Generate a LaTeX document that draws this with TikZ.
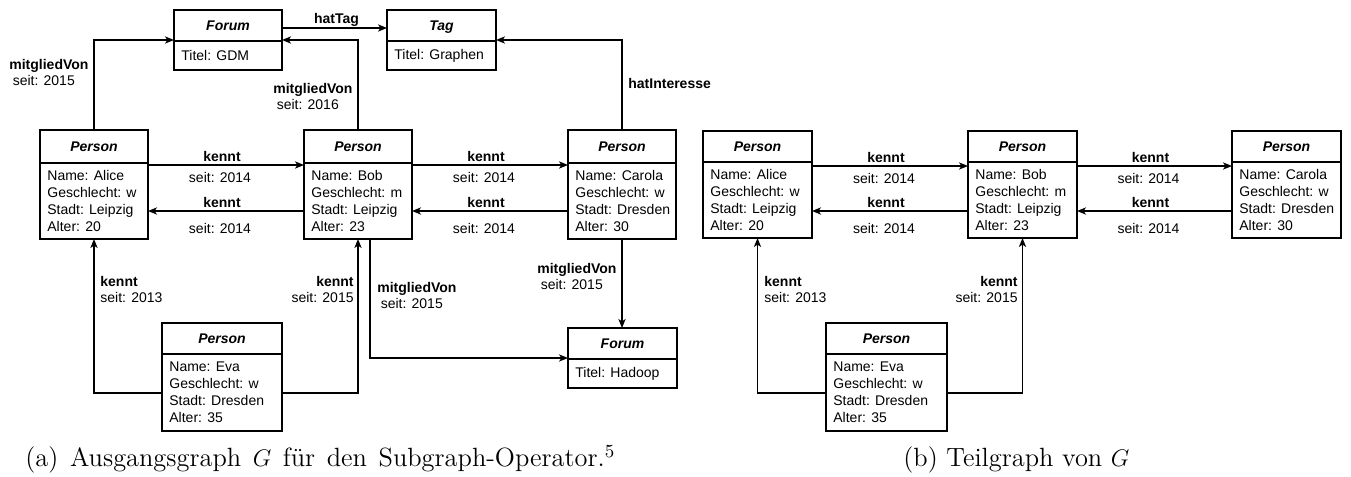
\documentclass[tikz,border=0pt]{standalone}
\usepackage{fontspec}
\newfontfamily\arialfam{Liberation Sans}
\usetikzlibrary{arrows.meta,fit}
\newcommand\umlbox[8]{%
  \node[box, fit={(#2,#3) (#4,#5)}] (#1) {};
  \draw[boxline] (#2,#6) -- (#4,#6);
  \node[ttl] (#1-t) at ({(#2+#4)/2},{(#3+#6)/2}) {#7};
  \node[body] (#1-b) at ({#2+7},{(#6+#5)/2}) {#8};
}
\begin{document}
\begin{tikzpicture}[x=0.5pt,y=-0.5pt,
  box/.style={draw, line width=0.7pt, inner sep=0pt, outer sep=0pt},
  boxline/.style={line width=0.7pt},
  ttl/.style={font={\arialfam\bfseries\itshape\fontsize{7}{8.5}\selectfont}, inner sep=0pt, text height=5.05pt, text depth=0pt},
  body/.style={font={\arialfam\fontsize{7}{8.5}\selectfont}, align=left, inner sep=0pt, anchor=west},
  lbl/.style={font={\arialfam\fontsize{7}{8}\selectfont}, align=left, inner sep=0pt},
  conn/.style={line width=0.7pt, -{Stealth[length=4.5pt,width=3.6pt,inset=1.2pt]}},
  captxt/.style={font=\fontsize{13.2}{16}\selectfont, inner sep=0pt, anchor=base west}]
\useasboundingbox (0,0) rectangle (1351,477);

% ---------- (a) ----------
\umlbox{forumA}{174}{10}{282}{70}{41}{Forum}{Titel: GDM}
\umlbox{tag}{387}{10}{496}{70}{41}{Tag}{Titel: Graphen}
\umlbox{alice}{40}{130}{148}{239}{163}{Person}{Name: Alice\\Geschlecht: w\\Stadt: Leipzig\\Alter: 20}
\umlbox{bob}{304}{130}{412}{239}{163}{Person}{Name: Bob\\Geschlecht: m\\Stadt: Leipzig\\Alter: 23}
\umlbox{carola}{568}{130}{676}{239}{163}{Person}{Name: Carola\\Geschlecht: w\\Stadt: Dresden\\Alter: 30}
\umlbox{eva}{162}{323}{282}{431}{354}{Person}{Name: Eva\\Geschlecht: w\\Stadt: Dresden\\Alter: 35}
\umlbox{hadoop}{568}{328}{677}{388}{359}{Forum}{Titel: Hadoop}

\draw[conn] ([yshift=6pt]forumA.east) -- ([yshift=6pt]tag.west)
  node[lbl, midway, yshift=4pt, xshift=1pt, font={\arialfam\bfseries\fontsize{7}{8}\selectfont}] (lhattag) {hatTag};
\draw[conn] (alice.north) |- (forumA.west);
\node[lbl, anchor=north west] (lmA) at (9,59) {\textbf{mitgliedVon}\\\hspace{1.7pt}seit: 2015};
\draw[conn] (bob.north) |- (forumA.east);
\node[lbl, anchor=north west] (lmB) at (273,83) {\textbf{mitgliedVon}\\\hspace{1.7pt}seit: 2016};
\draw[conn] (carola.north) |- (tag.east);
\node[lbl, anchor=west] (lhi) at (628,83) {\textbf{hatInteresse}};

\draw[conn] ([yshift=9.75pt]alice.east) -- ([yshift=9.75pt]bob.west)
  node[lbl, midway, yshift=4.5pt, xshift=-2pt] (k1) {\textbf{kennt}}
  node[lbl, midway, yshift=-6pt, xshift=-3pt] (s1) {seit: 2014};
\draw[conn] ([yshift=-13.25pt]bob.west) -- ([yshift=-13.25pt]alice.east)
  node[lbl, midway, yshift=4.5pt, xshift=-2pt] (k2) {\textbf{kennt}}
  node[lbl, midway, yshift=-8.5pt, xshift=-3pt] (s2) {seit: 2014};
\draw[conn] ([yshift=9.75pt]bob.east) -- ([yshift=9.75pt]carola.west)
  node[lbl, midway, yshift=4.5pt, xshift=-2pt] (k3) {\textbf{kennt}}
  node[lbl, midway, yshift=-6pt, xshift=-3pt] (s3) {seit: 2014};
\draw[conn] ([yshift=-13.25pt]carola.west) -- ([yshift=-13.25pt]bob.east)
  node[lbl, midway, yshift=4.5pt, xshift=-2pt] (k4) {\textbf{kennt}}
  node[lbl, midway, yshift=-8.5pt, xshift=-3pt] (s4) {seit: 2014};

\draw[conn] ([yshift=-8pt]eva.west) -| (alice.south);
\node[lbl, anchor=north west] (le1) at (100,276) {\textbf{kennt}\\seit: 2013};
\draw[conn] ([yshift=-8pt]eva.east) -| (bob.south);
\node[lbl, anchor=north east, align=right] (le2) at (354,276) {\textbf{kennt}\\seit: 2015};

\draw[conn] ([xshift=6pt]bob.south) |- (hadoop.west);
\node[lbl, anchor=north west] (lmH1) at (377,282) {\textbf{mitgliedVon}\\\hspace{1.7pt}seit: 2015};
\draw[conn] (carola.south) -- (carola.south |- hadoop.north);
\node[lbl, anchor=north west] (lmH2) at (537,263) {\textbf{mitgliedVon}\\\hspace{1.7pt}seit: 2015};

\node[captxt] (capA) at (25,466) {\makebox[295pt][s]{(a) Ausgangsgraph $G$ für den Subgraph-Operator.\textsuperscript{5}}};

% ---------- (b) ----------
\umlbox{aliceB}{703}{131}{812}{238}{162}{Person}{Name: Alice\\Geschlecht: w\\Stadt: Leipzig\\Alter: 20}
\umlbox{bobB}{968}{131}{1077}{238}{162}{Person}{Name: Bob\\Geschlecht: m\\Stadt: Leipzig\\Alter: 23}
\umlbox{carolaB}{1232}{131}{1341}{238}{162}{Person}{Name: Carola\\Geschlecht: w\\Stadt: Dresden\\Alter: 30}
\umlbox{evaB}{826}{323}{947}{431}{354}{Person}{Name: Eva\\Geschlecht: w\\Stadt: Dresden\\Alter: 35}

\draw[conn] ([yshift=9.25pt]aliceB.east) -- ([yshift=9.25pt]bobB.west)
  node[lbl, midway, yshift=4.5pt, xshift=-2pt] (k5) {\textbf{kennt}}
  node[lbl, midway, yshift=-6pt, xshift=-3pt] (s5) {seit: 2014};
\draw[conn] ([yshift=-13.25pt]bobB.west) -- ([yshift=-13.25pt]aliceB.east)
  node[lbl, midway, yshift=4.5pt, xshift=-2pt] (k6) {\textbf{kennt}}
  node[lbl, midway, yshift=-8.5pt, xshift=-3pt] (s6) {seit: 2014};
\draw[conn] ([yshift=9.25pt]bobB.east) -- ([yshift=9.25pt]carolaB.west)
  node[lbl, midway, yshift=4.5pt, xshift=-2pt] (k7) {\textbf{kennt}}
  node[lbl, midway, yshift=-6pt, xshift=-3pt] (s7) {seit: 2014};
\draw[conn] ([yshift=-13.25pt]carolaB.west) -- ([yshift=-13.25pt]bobB.east)
  node[lbl, midway, yshift=4.5pt, xshift=-2pt] (k8) {\textbf{kennt}}
  node[lbl, midway, yshift=-8.5pt, xshift=-3pt] (s8) {seit: 2014};

\draw[conn] ([yshift=-8pt]evaB.west) -| (aliceB.south);
\node[lbl, anchor=north west] (le3) at (764,276) {\textbf{kennt}\\seit: 2013};
\draw[conn] ([yshift=-8pt]evaB.east) -| (bobB.south);
\node[lbl, anchor=north east, align=right] (le4) at (1018,276) {\textbf{kennt}\\seit: 2015};

\node[captxt] (capB) at (903,466) {(b) Teilgraph von $G$};
\end{tikzpicture}
\end{document}
